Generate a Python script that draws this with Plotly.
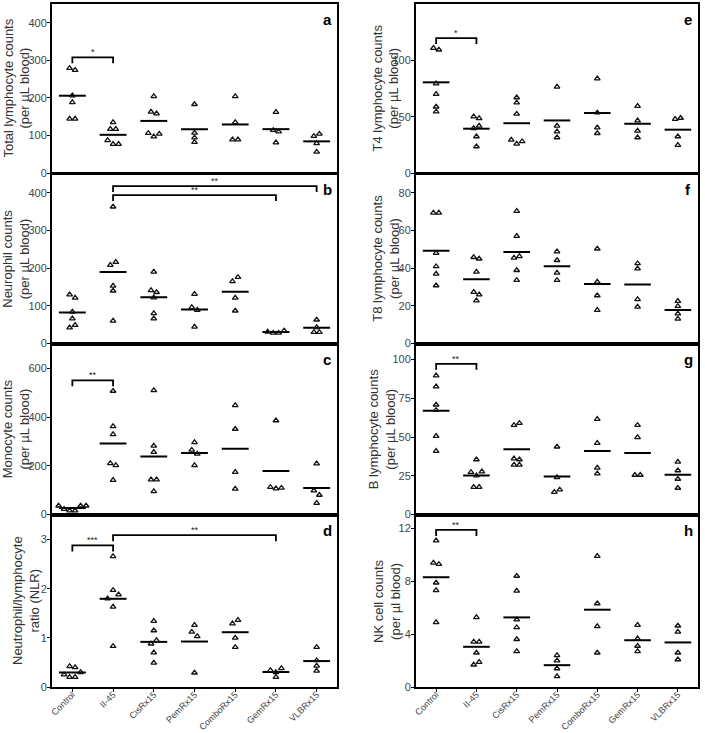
import plotly.graph_objects as go

categories = ["Control", "II-45", "CisRx15", "PemRx15", "ComboRx15", "GemRx15", "VLBRx15"]

total_lymphocytes = [
    [279, 274, 206, 188, 144, 144],
    [135, 117, 117, 87, 77, 77],
    [204, 163, 158, 106, 97, 104],
    [183, 107, 94, 82],
    [204, 135, 89, 89],
    [162, 114, 110, 81],
    [98, 104, 79, 56],
]
neutrophils = [
    [130, 121, 84, 66, 42, 49],
    [363, 208, 216, 153, 140, 60],
    [190, 141, 136, 122, 80, 66],
    [131, 96, 89, 44],
    [165, 176, 121, 87],
    [31, 28, 28, 34],
    [63, 43, 30, 30],
]
monocytes = [
    [36, 22, 16, 16, 36, 36],
    [507, 362, 329, 210, 202, 141],
    [510, 282, 256, 143, 143, 95],
    [296, 265, 249, 202],
    [448, 351, 174, 105],
    [386, 112, 106, 109],
    [209, 98, 80, 47],
]
nlr = [
    [0.42, 0.40, 0.25, 0.20, 0.20, 0.30],
    [2.66, 1.80, 1.97, 1.88, 1.63, 0.83],
    [1.34, 1.15, 0.88, 0.95, 0.70, 0.49],
    [1.26, 1.12, 1.03, 0.29],
    [1.29, 1.36, 1.00, 0.81],
    [0.34, 0.30, 0.38, 0.20],
    [0.81, 0.54, 0.43, 0.33],
]
t4 = [
    [110.9, 109.4, 79.4, 70.0, 58.8, 54.4],
    [50.0, 48.5, 39.7, 41.8, 32.4, 23.5],
    [67.0, 62.4, 52.4, 29.4, 25.9, 28.0],
    [76.5, 41.8, 36.8, 31.5],
    [83.8, 53.5, 40.3, 35.3],
    [59.4, 46.5, 37.4, 31.5],
    [47.9, 48.8, 32.4, 24.7],
]
t8 = [
    [69.4, 69.4, 48.0, 40.9, 37.0, 30.8],
    [45.8, 45.0, 38.0, 27.3, 26.0, 22.8],
    [70.3, 57.0, 45.5, 46.3, 38.9, 33.6],
    [48.8, 44.2, 37.5, 33.6],
    [50.3, 32.7, 25.5, 17.7],
    [39.8, 42.5, 23.4, 19.5],
    [22.5, 19.8, 13.1, 15.9],
]
b_cells = [
    [89.6, 82.5, 70.8, 67.3, 50.6, 40.9],
    [35.5, 27.3, 25.1, 27.7, 17.7, 17.7],
    [57.6, 58.9, 36.1, 35.5, 32.0, 32.0],
    [43.7, 24.0, 14.5, 16.0],
    [61.5, 46.1, 30.1, 26.4],
    [57.6, 49.8, 25.5, 25.5],
    [34.0, 28.4, 22.9, 17.1],
]
nk_cells = [
    [11.06, 9.38, 9.28, 7.88, 7.30, 4.88],
    [5.26, 3.41, 3.41, 2.59, 1.68, 1.88],
    [8.39, 7.27, 5.09, 4.50, 3.61, 2.70],
    [2.39, 2.00, 1.40, 0.81],
    [9.89, 6.31, 4.58, 2.59],
    [4.68, 3.66, 3.10, 2.70],
    [4.63, 4.17, 2.59, 2.08],
]

# significance brackets: (from group, to group, height, label)
brackets_a = [(0, 1, 308, "*")]
brackets_b = [(1, 6, 418, "**"), (1, 5, 394, "**")]
brackets_c = [(0, 1, 551, "**")]
brackets_d = [(0, 1, 2.88, "***"), (1, 5, 3.09, "**")]
brackets_e = [(0, 1, 119.7, "*")]
brackets_f = []
brackets_g = [(0, 1, 97.2, "**")]
brackets_h = [(0, 1, 11.87, "**")]

W, H = 705, 733
FONT = "Liberation Sans, Arial, Helvetica, sans-serif"

rows_px = [(4, 173), (174, 343.5), (344, 514.5), (515, 687)]
cols_px = [(52, 337), (416, 698)]

panels = [
    dict(data=total_lymphocytes, ymax=450, tv=[0, 100, 200, 300, 400], col=0, row=0, letter="a",
         title="Total lymphocyte counts<br>(per µL blood)", tx=16, br=brackets_a),
    dict(data=neutrophils, ymax=450, tv=[0, 100, 200, 300, 400], col=0, row=1, letter="b",
         title="Neurophil counts<br>(per µL blood)", tx=16, br=brackets_b),
    dict(data=monocytes, ymax=700, tv=[0, 200, 400, 600], col=0, row=2, letter="c",
         title="Monocyte counts<br>(per µL blood)", tx=16, br=brackets_c),
    dict(data=nlr, ymax=3.5, tv=[0, 1, 2, 3], col=0, row=3, letter="d",
         title="Neutrophil/lymphocyte<br>ratio (NLR)", tx=26, br=brackets_d),
    dict(data=t4, ymax=150, tv=[0, 50, 100], col=1, row=0, letter="e",
         title="T4 lymphocyte counts<br>(per µL blood)", tx=385, br=brackets_e),
    dict(data=t8, ymax=90, tv=[0, 20, 40, 60, 80], col=1, row=1, letter="f",
         title="T8 lymphocyte counts<br>(per µL blood)", tx=386, br=brackets_f),
    dict(data=b_cells, ymax=110, tv=[0, 25, 50, 75, 100], col=1, row=2, letter="g",
         title="B lymphocyte counts<br>(per µL blood)", tx=382, br=brackets_g),
    dict(data=nk_cells, ymax=13, tv=[0, 4, 8, 12], col=1, row=3, letter="h",
         title="NK cell counts<br>(per µl blood)", tx=387, br=brackets_h),
]


def swarm_offsets(vals, px_per_unit, thr=4.5, dx=0.135):
    order = sorted(range(len(vals)), key=lambda i: -vals[i])
    clusters = []
    for i in order:
        if clusters and (vals[clusters[-1][-1]] - vals[i]) * px_per_unit < thr:
            clusters[-1].append(i)
        else:
            clusters.append([i])
    off = [0.0] * len(vals)
    for c in clusters:
        c = sorted(c)
        n = len(c)
        for k, i in enumerate(c):
            off[i] = (k - (n - 1) / 2) * dx
    return off


fig = go.Figure()
layout = dict(
    width=W, height=H, margin=dict(l=0, r=0, t=0, b=0),
    paper_bgcolor="white", plot_bgcolor="white", showlegend=False,
    annotations=[],
)

for n, p in enumerate(panels, start=1):
    sfx = "" if n == 1 else str(n)
    xa, ya = "x" + sfx, "y" + sfx
    top, bot = rows_px[p["row"]]
    left, right = cols_px[p["col"]]
    ppu = (bot - top) / p["ymax"]
    bottom_row = p["row"] == 3

    xs, ys = [], []
    for gi, vals in enumerate(p["data"]):
        offs = swarm_offsets(vals, ppu)
        xs += [gi + o for o in offs]
        ys += vals
        mean = sum(vals) / len(vals)
        fig.add_trace(go.Scatter(x=[gi - 0.33, gi + 0.33], y=[mean, mean], mode="lines",
                                 line=dict(color="black", width=2), xaxis=xa, yaxis=ya,
                                 hoverinfo="skip"))
    fig.add_trace(go.Scatter(x=xs, y=ys, mode="markers", xaxis=xa, yaxis=ya,
                             marker=dict(symbol="triangle-up-open", size=5, color="#111",
                                         line=dict(width=1.3, color="#111"))))

    leg = 0.035 * p["ymax"]
    for (g1, g2, h, lab) in p["br"]:
        fig.add_trace(go.Scatter(x=[g1, g1, g2, g2], y=[h - leg, h, h, h - leg], mode="lines",
                                 line=dict(color="black", width=1.8), xaxis=xa, yaxis=ya,
                                 hoverinfo="skip"))
        layout["annotations"].append(dict(x=(g1 + g2) / 2, y=h, xref=xa, yref=ya, text=lab,
                                          showarrow=False, yanchor="bottom", yshift=-2,
                                          font=dict(size=9, color="#222", family=FONT)))

    layout["xaxis" + sfx] = dict(
        domain=[left / W, right / W], anchor=ya, range=[-0.5, 6.5],
        tickmode="array", tickvals=list(range(len(categories))), ticktext=categories,
        showticklabels=bottom_row, tickangle=-45,
        ticks="outside" if bottom_row else "", ticklen=3, tickwidth=1.2, tickcolor="black",
        tickfont=dict(family=FONT, size=9, color="#444"), ticklabelstandoff=-6,
        showline=True, mirror=True, linewidth=2, linecolor="black",
        showgrid=False, zeroline=False, fixedrange=True, automargin=False,
    )
    layout["yaxis" + sfx] = dict(
        domain=[1 - bot / H, 1 - top / H], anchor=xa, range=[0, p["ymax"]],
        tickmode="array", tickvals=p["tv"], ticks="outside", ticklen=3, tickwidth=1.2,
        tickcolor="black", tickfont=dict(family=FONT, size=11, color="#444"),
        ticklabelstandoff=-2,
        showline=True, mirror=True, linewidth=2, linecolor="black",
        showgrid=False, zeroline=False, fixedrange=True, automargin=False,
    )
    layout["annotations"].append(dict(
        x=p["tx"] / W, y=1 - (top + bot) / 2 / H, xref="paper", yref="paper",
        text=p["title"], textangle=-90, showarrow=False, xanchor="center", yanchor="middle",
        font=dict(family=FONT, size=13, color="#333")))
    layout["annotations"].append(dict(
        x=(right - 10) / W, y=1 - (top + 15) / H, xref="paper", yref="paper",
        text="<b>" + p["letter"] + "</b>", showarrow=False, xanchor="center", yanchor="middle",
        font=dict(family=FONT, size=15, color="black")))

fig.update_layout(**layout)
fig.write_html("out.html", config={"displayModeBar": False},
               post_script="document.body.style.margin='0px';document.body.style.overflow='hidden';")
